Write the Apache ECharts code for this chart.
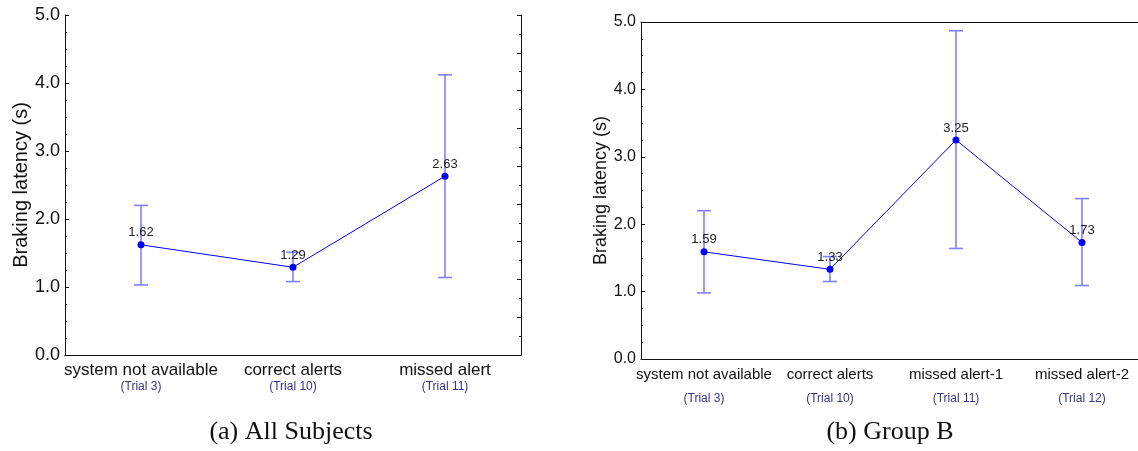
<!DOCTYPE html>
<html>
<head>
<meta charset="utf-8">
<script src="https://cdn.jsdelivr.net/npm/echarts@6/dist/echarts.min.js"></script>
<style>
  html, body { margin: 0; padding: 0; background: #fff; }
  #chart { width: 1138px; height: 451px; }
</style>
</head>
<body>
<div id="chart"></div>
<script>
// (a) All Subjects
const catsA = ["system not available", "correct alerts", "missed alert"];
const trialsA = ["(Trial 3)", "(Trial 10)", "(Trial 11)"];
const meanA = [1.62, 1.29, 2.63];
const lowA = [1.03, 1.08, 1.14];
const highA = [2.20, 1.51, 4.12];

// (b) Group B
const catsB = ["system not available", "correct alerts", "missed alert-1", "missed alert-2"];
const trialsB = ["(Trial 3)", "(Trial 10)", "(Trial 11)", "(Trial 12)"];
const meanB = [1.59, 1.33, 3.25, 1.73];
const lowB = [0.98, 1.15, 1.64, 1.09];
const highB = [2.20, 1.52, 4.87, 2.38];

const yTicks = [0, 5, 1]; // min, max, interval

const chart = echarts.init(document.getElementById("chart"));
const font = "Liberation Sans, Arial, sans-serif";
const axisColor = "#111";

// x axis at the bottom, with the trial number under each label
function bottomAxis(gridIndex, cats, trials, size, margin, trialLineHeight) {
  return {
    type: "category",
    gridIndex: gridIndex,
    position: "bottom",
    data: cats,
    boundaryGap: true,
    axisLine: { lineStyle: { color: axisColor, width: 1 } },
    axisTick: { inside: true, alignWithLabel: true, length: 4, lineStyle: { color: axisColor } },
    axisLabel: {
      margin: margin,
      interval: 0,
      formatter: function (v, i) {
        return "{a|" + v + "}\n{b|" + trials[i] + "}";
      },
      rich: {
        a: { fontFamily: font, fontSize: size, color: "#111", lineHeight: size + 1 },
        b: { fontFamily: font, fontSize: 12, color: "#34348a", lineHeight: trialLineHeight }
      }
    }
  };
}

function topAxis(gridIndex, cats) {
  return {
    type: "category",
    gridIndex: gridIndex,
    position: "top",
    data: cats,
    boundaryGap: true,
    axisLine: { lineStyle: { color: axisColor, width: 1 } },
    axisTick: { inside: true, alignWithLabel: true, length: 4, lineStyle: { color: axisColor } },
    axisLabel: { show: false }
  };
}

function leftAxis(gridIndex, nameGap, nameSize, labelSize) {
  return {
    type: "value",
    gridIndex: gridIndex,
    position: "left",
    min: yTicks[0],
    max: yTicks[1],
    interval: yTicks[2],
    name: "Braking latency (s)",
    nameLocation: "middle",
    nameGap: nameGap,
    nameTextStyle: { fontFamily: font, fontSize: nameSize, color: "#111" },
    axisLine: { show: true, lineStyle: { color: axisColor, width: 1 } },
    axisTick: { show: true, inside: true, length: 4, lineStyle: { color: axisColor } },
    minorTick: { show: true, splitNumber: 4, length: 2, lineStyle: { color: axisColor } },
    splitLine: { show: false },
    axisLabel: {
      margin: 5,
      fontFamily: font,
      fontSize: labelSize,
      color: "#111",
      formatter: function (v) { return v.toFixed(1); }
    }
  };
}

function errorBars(xIdx, yIdx, low, high) {
  return {
    type: "custom",
    xAxisIndex: xIdx,
    yAxisIndex: yIdx,
    z: 1,
    data: low.map(function (l, i) { return [i, l, high[i]]; }),
    renderItem: function (params, api) {
      const lo = api.coord([api.value(0), api.value(1)]);
      const hi = api.coord([api.value(0), api.value(2)]);
      const hw = 7;
      const style = { stroke: "#8080ff", lineWidth: 1.6, fill: null };
      return {
        type: "group",
        children: [
          { type: "line", shape: { x1: hi[0], y1: hi[1], x2: lo[0], y2: lo[1] }, style: style },
          { type: "line", shape: { x1: hi[0] - hw, y1: hi[1], x2: hi[0] + hw, y2: hi[1] }, style: style },
          { type: "line", shape: { x1: lo[0] - hw, y1: lo[1], x2: lo[0] + hw, y2: lo[1] }, style: style }
        ]
      };
    }
  };
}

function meanLine(xIdx, yIdx, values) {
  return {
    type: "line",
    xAxisIndex: xIdx,
    yAxisIndex: yIdx,
    z: 3,
    data: values,
    symbol: "circle",
    symbolSize: 7,
    lineStyle: { color: "#0000ff", width: 1 },
    itemStyle: { color: "#0000ff" },
    label: {
      show: true,
      position: "top",
      distance: 2,
      fontFamily: font,
      fontSize: 13,
      color: "#222",
      formatter: function (p) { return p.value.toFixed(2); }
    }
  };
}

const captionFont = "26px 'Liberation Serif', 'Times New Roman', serif";

chart.setOption({
  animation: false,
  grid: [
    { left: 65, top: 15, width: 456, height: 340, outerBoundsMode: "none" },
    { left: 641, top: 22, width: 504, height: 337, outerBoundsMode: "none" }
  ],
  xAxis: [
    bottomAxis(0, catsA, trialsA, 17, 6, 16),
    topAxis(0, catsA),
    bottomAxis(1, catsB, trialsB, 15, 8, 32),
    topAxis(1, catsB)
  ],
  yAxis: [
    leftAxis(0, 32, 20, 18),
    {
      type: "value",
      gridIndex: 0,
      position: "right",
      min: 0,
      max: 9,
      interval: 1,
      axisLine: { show: true, lineStyle: { color: axisColor, width: 1 } },
      axisTick: { show: true, inside: true, length: 4, lineStyle: { color: axisColor } },
      minorTick: { show: true, splitNumber: 2, length: 2, lineStyle: { color: axisColor } },
      splitLine: { show: false },
      axisLabel: { show: false }
    },
    leftAxis(1, 30, 18, 16)
  ],
  graphic: [
    {
      type: "text", x: 291, y: 432,
      style: { text: "(a) All Subjects", font: captionFont, fill: "#111", align: "center", verticalAlign: "middle" }
    },
    {
      type: "text", x: 890, y: 432,
      style: { text: "(b) Group B", font: captionFont, fill: "#111", align: "center", verticalAlign: "middle" }
    }
  ],
  series: [
    errorBars(0, 0, lowA, highA),
    meanLine(0, 0, meanA),
    errorBars(2, 2, lowB, highB),
    meanLine(2, 2, meanB)
  ]
});
</script>
</body>
</html>
